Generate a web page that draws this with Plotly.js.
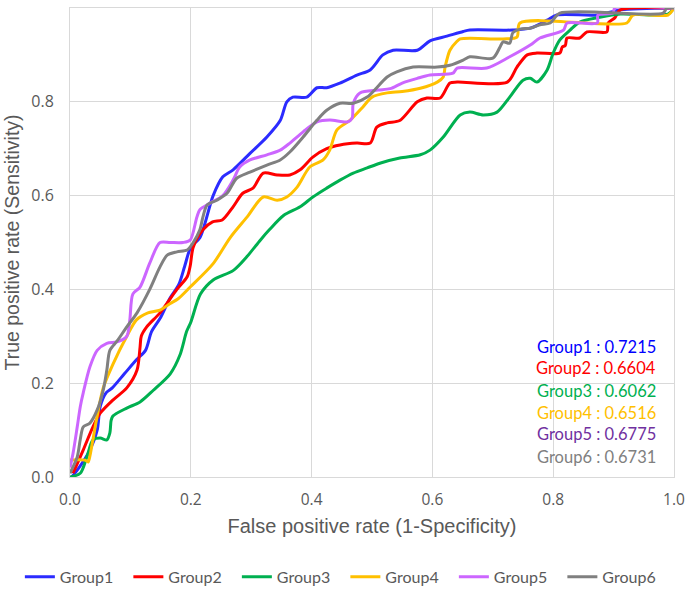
<!DOCTYPE html>
<html>
<head>
<meta charset="utf-8">
<script src="https://cdn.plot.ly/plotly-3.0.1.min.js"></script>
<style>html,body{margin:0;padding:0;background:#fff;}#chart{width:685px;height:589px;}</style>
</head>
<body>
<div id="chart"></div>
<script>
const groupNames = ["Group1", "Group2", "Group3", "Group4", "Group5", "Group6"];
const aucValues = ["0.7215", "0.6604", "0.6062", "0.6516", "0.6775", "0.6731"];
const lineColors = ["#2B2BFF", "#FF0000", "#00B050", "#FFC000", "#CC66FF", "#808080"];
const labelColors = ["#0000FF", "#FF0000", "#00B050", "#FFC000", "#7030A0", "#808080"];

const g1x = [0.003,0.015,0.03,0.045,0.05,0.06,0.07,0.09,0.11,0.125,0.135,0.15,0.165,0.18,0.19,0.2,0.215,0.237,0.253,0.27,0.298,0.326,0.348,0.359,0.369,0.392,0.409,0.425,0.447,0.475,0.497,0.518,0.535,0.575,0.596,0.624,0.651,0.662,0.733,0.762,0.79,0.806,0.873,0.911,1.0];
const g1y = [0.0,0.02,0.05,0.10,0.15,0.18,0.19,0.22,0.25,0.27,0.31,0.34,0.38,0.41,0.45,0.49,0.51,0.60,0.64,0.655,0.69,0.725,0.76,0.80,0.81,0.81,0.83,0.83,0.84,0.857,0.868,0.90,0.91,0.91,0.93,0.94,0.95,0.953,0.953,0.957,0.974,0.985,0.985,0.996,1.0];

const g2x = [0.005,0.022,0.038,0.05,0.071,0.094,0.111,0.116,0.118,0.127,0.149,0.177,0.194,0.199,0.204,0.22,0.236,0.252,0.27,0.286,0.303,0.32,0.343,0.364,0.381,0.402,0.425,0.447,0.475,0.497,0.508,0.525,0.546,0.575,0.591,0.613,0.629,0.641,0.724,0.74,0.757,0.773,0.811,0.815,0.82,0.823,0.844,0.856,0.889,0.891,0.902,0.911,1.0];
const g2y = [0.008,0.058,0.107,0.136,0.164,0.19,0.228,0.277,0.30,0.32,0.35,0.40,0.427,0.45,0.49,0.527,0.544,0.548,0.576,0.605,0.616,0.648,0.644,0.644,0.655,0.682,0.70,0.708,0.712,0.712,0.746,0.755,0.76,0.80,0.808,0.808,0.84,0.842,0.842,0.874,0.90,0.904,0.904,0.917,0.92,0.936,0.936,0.949,0.949,0.968,0.979,0.996,1.0];

const g3x = [0.0,0.017,0.028,0.038,0.05,0.061,0.066,0.068,0.071,0.094,0.116,0.138,0.166,0.182,0.193,0.2,0.216,0.237,0.27,0.293,0.315,0.33,0.354,0.381,0.402,0.425,0.447,0.469,0.492,0.513,0.546,0.58,0.596,0.618,0.646,0.662,0.684,0.707,0.728,0.75,0.762,0.773,0.79,0.8,0.811,0.828,0.844,0.877,0.911,0.99,1.0];
const g3y = [0.0,0.008,0.043,0.079,0.083,0.079,0.094,0.12,0.13,0.147,0.16,0.185,0.22,0.26,0.31,0.33,0.39,0.42,0.44,0.47,0.505,0.527,0.558,0.576,0.597,0.616,0.633,0.648,0.659,0.669,0.68,0.687,0.697,0.725,0.772,0.778,0.772,0.778,0.81,0.846,0.85,0.842,0.868,0.904,0.932,0.953,0.97,0.98,0.987,0.987,1.0];

const g4x = [0.0,0.025,0.03,0.033,0.038,0.045,0.055,0.071,0.094,0.11,0.129,0.149,0.166,0.179,0.199,0.237,0.265,0.293,0.32,0.343,0.359,0.376,0.397,0.419,0.43,0.442,0.464,0.485,0.5,0.525,0.55,0.58,0.608,0.618,0.621,0.629,0.64,0.646,0.717,0.74,0.745,0.922,0.932,0.99,1.0];
const g4y = [0.036,0.036,0.032,0.045,0.08,0.13,0.19,0.24,0.30,0.335,0.35,0.356,0.37,0.38,0.405,0.455,0.51,0.554,0.597,0.59,0.597,0.618,0.661,0.676,0.697,0.74,0.761,0.789,0.81,0.819,0.822,0.829,0.842,0.853,0.874,0.91,0.928,0.934,0.934,0.938,0.968,0.968,0.985,0.985,1.0];

const g5x = [0.0,0.005,0.012,0.017,0.022,0.033,0.045,0.061,0.078,0.094,0.099,0.104,0.116,0.132,0.149,0.166,0.187,0.199,0.21,0.215,0.232,0.253,0.27,0.281,0.298,0.326,0.348,0.364,0.386,0.409,0.43,0.459,0.467,0.469,0.48,0.51,0.53,0.55,0.575,0.596,0.634,0.641,0.69,0.728,0.762,0.778,0.817,0.823,0.873,0.874,0.899,0.902,1.0];
const g5y = [0.02,0.05,0.107,0.15,0.18,0.235,0.27,0.285,0.288,0.30,0.335,0.39,0.405,0.456,0.50,0.50,0.50,0.505,0.554,0.57,0.584,0.60,0.633,0.661,0.676,0.687,0.697,0.712,0.736,0.757,0.761,0.757,0.765,0.797,0.819,0.825,0.828,0.84,0.85,0.857,0.861,0.872,0.872,0.896,0.921,0.936,0.953,0.968,0.968,0.985,0.989,1.0,1.0];

const g6x = [0.0,0.012,0.017,0.022,0.033,0.045,0.055,0.061,0.066,0.078,0.094,0.111,0.132,0.149,0.161,0.177,0.194,0.204,0.215,0.22,0.227,0.243,0.26,0.276,0.298,0.326,0.348,0.364,0.386,0.409,0.425,0.447,0.469,0.492,0.525,0.541,0.568,0.608,0.629,0.651,0.662,0.70,0.712,0.717,0.728,0.733,0.745,0.762,0.778,0.795,0.811,0.982,0.988,1.0];
const g6y = [0.008,0.043,0.08,0.107,0.115,0.143,0.185,0.228,0.27,0.29,0.32,0.35,0.40,0.448,0.473,0.48,0.484,0.50,0.527,0.554,0.58,0.59,0.605,0.637,0.65,0.665,0.676,0.693,0.725,0.761,0.782,0.797,0.797,0.81,0.853,0.864,0.874,0.874,0.878,0.889,0.896,0.893,0.917,0.928,0.925,0.947,0.955,0.957,0.964,0.968,0.989,0.989,1.0,1.0];

const tickVals = [0, 0.2, 0.4, 0.6, 0.8, 1.0];
const tickText = ["0.0", "0.2", "0.4", "0.6", "0.8", "1.0"];

const xs = [g1x, g2x, g3x, g4x, g5x, g6x];
const ys = [g1y, g2y, g3y, g4y, g5y, g6y];

const traces = groupNames.map((name, i) => ({
  x: xs[i], y: ys[i], name: name, type: 'scatter', mode: 'lines',
  line: {color: lineColors[i], width: 3, shape: 'spline', smoothing: 0.8}
}));

const labelY = [0.277, 0.232, 0.183, 0.136, 0.092, 0.043];
const annotations = groupNames.map((name, i) => ({
  xref: 'paper', yref: 'paper', x: 0.9735, y: labelY[i], xanchor: 'right', yanchor: 'middle',
  text: name + ' : ' + aucValues[i], showarrow: false,
  font: {family: 'Lato', size: 16.5, color: labelColors[i]}
}));

const gridColor = '#d9d9d9';
const layout = {
  width: 685, height: 589,
  margin: {l: 70, r: 11, t: 8, b: 112, autoexpand: false},
  paper_bgcolor: '#ffffff', plot_bgcolor: '#ffffff',
  showlegend: true,
  legend: {orientation: 'h', x: -0.083, xanchor: 'left', y: -0.213, yanchor: 'middle',
    font: {family: 'Lato', size: 16, color: '#595959'}, entrywidth: 63.5, entrywidthmode: 'pixels', itemwidth: 30},
  xaxis: {range: [0, 1], tickvals: tickVals, ticktext: tickText, showgrid: true, gridcolor: gridColor,
    zeroline: false, showline: true, linecolor: gridColor, mirror: true, ticks: '', ticklabelstandoff: 8,
    ticklabeloverflow: 'allow',
    tickfont: {family: 'Open Sans', size: 15.5, color: '#595959'},
    title: {text: 'False positive rate (1-Specificity)', font: {family: 'Liberation Sans', size: 20, color: '#595959'}, standoff: 10}},
  yaxis: {range: [0, 1], tickvals: tickVals, ticktext: tickText, showgrid: true, gridcolor: gridColor,
    zeroline: false, showline: true, linecolor: gridColor, mirror: true, ticks: '', ticklabelstandoff: 12,
    tickfont: {family: 'Open Sans', size: 16, color: '#595959'},
    title: {text: 'True positive rate (Sensitivity)', font: {family: 'Liberation Sans', size: 19.5, color: '#595959'}, standoff: 6}},
  annotations: annotations
};

Plotly.newPlot('chart', traces, layout, {displayModeBar: false, staticPlot: true});
</script>
</body>
</html>
